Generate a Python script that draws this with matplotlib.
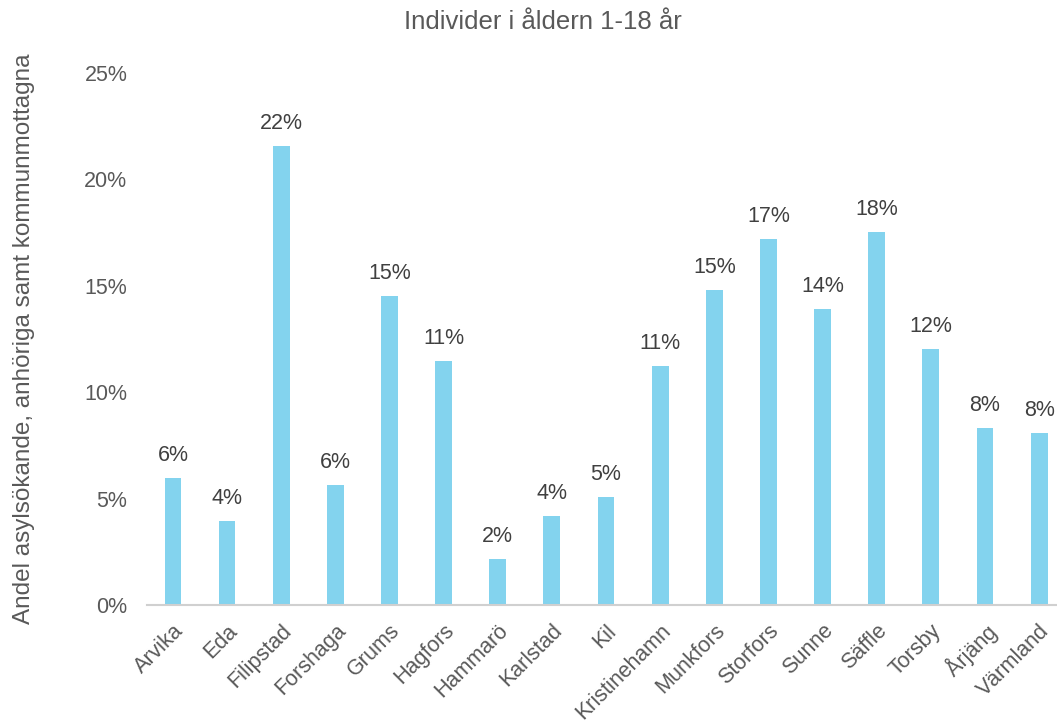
import matplotlib
matplotlib.use('Agg')
import matplotlib.pyplot as plt
from matplotlib.ticker import FuncFormatter

# Data (share in percent)
kommuner = ['Arvika', 'Eda', 'Filipstad', 'Forshaga', 'Grums', 'Hagfors', 'Hammarö',
            'Karlstad', 'Kil', 'Kristinehamn', 'Munkfors', 'Storfors', 'Sunne', 'Säffle',
            'Torsby', 'Årjäng', 'Värmland']
andel = [5.97, 3.95, 21.57, 5.65, 14.52, 11.47, 2.16, 4.18, 5.08, 11.23, 14.8, 17.2,
         13.9, 17.53, 12.03, 8.32, 8.08]
y_ticks = [0, 5, 10, 15, 20, 25]

plt.rcParams['font.family'] = ['Liberation Sans', 'DejaVu Sans']

fig = plt.figure(figsize=(10.57, 7.22), dpi=100)
ax = fig.add_axes([0.139, 0.162, 0.861, 0.737])

x = list(range(len(kommuner)))
ax.bar(x, andel, width=0.31, color='#83D3EE', zorder=2)

# Value labels above bars
for xi, v in zip(x, andel):
    ax.text(xi, v + 0.55, f'{round(v):.0f}%', ha='center', va='bottom',
            fontsize=15.5, color='#404040')

ax.set_xlim(-0.48, 16.33)
ax.set_ylim(0, 25)
ax.set_yticks(y_ticks)
ax.yaxis.set_major_formatter(FuncFormatter(lambda v, p: f'{v:.0f}%'))
ax.set_xticks(x)
ax.set_xticklabels(kommuner, rotation=45, ha='right', rotation_mode='anchor')

for s in ['top', 'right', 'left']:
    ax.spines[s].set_visible(False)
ax.spines['bottom'].set_color('#D0D0D0')
ax.spines['bottom'].set_linewidth(1.5)
ax.tick_params(axis='both', length=0, labelsize=15.5, colors='#595959')
ax.tick_params(axis='y', pad=14)
ax.tick_params(axis='x', pad=11)

ax.set_ylabel('Andel asylsökande, anhöriga samt kommunmottagna', fontsize=17.5,
              color='#595959')
ax.yaxis.set_label_coords(-0.123, 0.5)
fig.text(0.514, 0.970, 'Individer i åldern 1-18 år', ha='center', va='center',
         fontsize=18.5, color='#595959')

fig.savefig('out.png', dpi=100)
plt.close(fig)
